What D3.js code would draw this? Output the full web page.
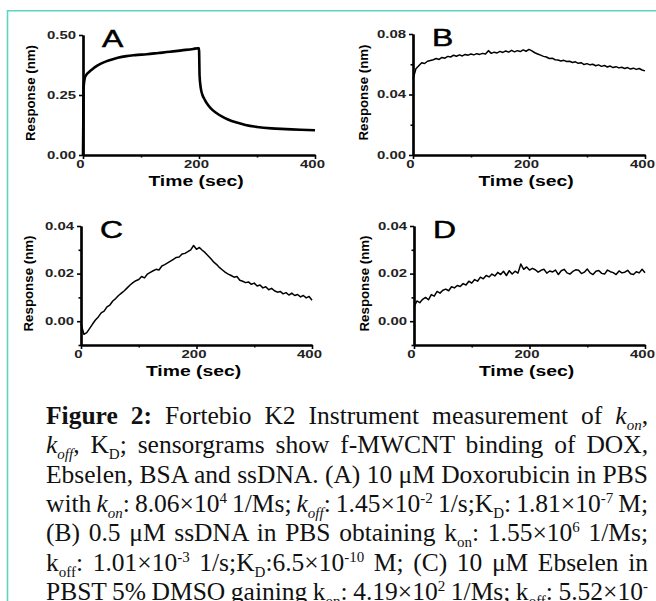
<!DOCTYPE html>
<html>
<head>
<meta charset="utf-8">
<script src="https://cdn.jsdelivr.net/npm/d3@7/dist/d3.min.js"></script>
<style>
  body { margin: 0; background: #fff; }
  svg { display: block; }
</style>
</head>
<body>
<svg id="fig"></svg>
<script>
// ---- data ----
// panel A (DOX) : smooth curve, irregular sampling
var timeA = [0, 1, 3, 6, 10, 15, 20, 30, 40, 50, 60, 75, 90, 110, 130, 150, 170, 190, 198, 200,
             201, 203, 206, 210, 215, 220, 230, 240, 250, 265, 280, 300, 325, 350, 375, 400]
var respA = [0.0, 0.28, 0.32, 0.335, 0.345, 0.355, 0.365, 0.38, 0.39, 0.398, 0.405, 0.412, 0.416, 0.42, 0.425, 0.43, 0.436, 0.442, 0.445, 0.445,
             0.33, 0.28, 0.25, 0.23, 0.21, 0.195, 0.175, 0.16, 0.148, 0.135, 0.125, 0.117, 0.111, 0.108, 0.105, 0.103]

// panels B, C, D : noisy traces, one value every 5 s
var timeBCD = [0, 5, 10, 15, 20, 25, 30, 35, 40, 45, 50, 55, 60, 65, 70, 75, 80, 85, 90, 95,
  100, 105, 110, 115, 120, 125, 130, 135, 140, 145, 150, 155, 160, 165, 170, 175, 180, 185, 190, 195,
  200, 205, 210, 215, 220, 225, 230, 235, 240, 245, 250, 255, 260, 265, 270, 275, 280, 285, 290, 295,
  300, 305, 310, 315, 320, 325, 330, 335, 340, 345, 350, 355, 360, 365, 370, 375, 380, 385, 390, 395, 400]

var respB = [0.050, 0.057, 0.059, 0.061, 0.0605, 0.062, 0.0625, 0.063, 0.0638, 0.0632,
  0.0645, 0.064, 0.0652, 0.0648, 0.066, 0.0653, 0.0662, 0.0655, 0.0665, 0.066,
  0.0668, 0.0662, 0.067, 0.0665, 0.0672, 0.0668, 0.069, 0.0672, 0.068, 0.0675,
  0.0685, 0.0678, 0.0688, 0.068, 0.0692, 0.0682, 0.069, 0.0684, 0.0695, 0.0686,
  0.0698, 0.0688, 0.0676, 0.0668, 0.066, 0.0652, 0.0648, 0.0638, 0.064, 0.063,
  0.0628, 0.0622, 0.0626, 0.0618, 0.062, 0.0612, 0.0616, 0.0606, 0.061, 0.0598,
  0.0604, 0.0596, 0.06, 0.059, 0.0596, 0.0586, 0.0592, 0.0582, 0.0588, 0.0578,
  0.0584, 0.0576, 0.058, 0.0572, 0.0578, 0.0568, 0.0574, 0.0566, 0.0572, 0.0562, 0.0556]

var respC = [-0.001, -0.0055, -0.0048, -0.003, -0.0012, 0.0005, 0.0018, 0.0035, 0.0042, 0.006,
  0.0068, 0.0085, 0.0095, 0.0108, 0.0118, 0.0128, 0.014, 0.0152, 0.0162, 0.017,
  0.0175, 0.0188, 0.0182, 0.0198, 0.0205, 0.0212, 0.0218, 0.0215, 0.0232, 0.0238,
  0.0245, 0.0252, 0.026, 0.0268, 0.027, 0.0282, 0.0285, 0.0292, 0.03, 0.0318,
  0.0302, 0.031, 0.0298, 0.0288, 0.0275, 0.0262, 0.0248, 0.0238, 0.0225, 0.0215,
  0.0205, 0.0198, 0.0192, 0.0185, 0.0188, 0.0172, 0.0168, 0.0162, 0.0165, 0.0155,
  0.016, 0.0148, 0.0152, 0.014, 0.0145, 0.0132, 0.0138, 0.0128, 0.0122, 0.0125,
  0.0115, 0.012, 0.011, 0.0118, 0.0108, 0.0112, 0.0102, 0.0108, 0.0098, 0.0104, 0.0088]

var respD = [0.006, 0.0085, 0.0078, 0.0092, 0.01, 0.009, 0.0112, 0.0105, 0.0125, 0.0118,
  0.013, 0.0135, 0.0128, 0.0145, 0.014, 0.015, 0.0146, 0.0158, 0.0152, 0.0168,
  0.016, 0.0175, 0.0168, 0.0185, 0.0178, 0.0192, 0.0186, 0.0198, 0.019, 0.0205,
  0.0196, 0.021, 0.0192, 0.0212, 0.0198, 0.021, 0.0202, 0.024, 0.0218, 0.0228,
  0.0215, 0.0222, 0.0216, 0.0206, 0.0214, 0.0218, 0.0202, 0.0211, 0.0207, 0.0215,
  0.0196, 0.0212, 0.0218, 0.0203, 0.0198, 0.0209, 0.0216, 0.0214, 0.02, 0.0206,
  0.0219, 0.0203, 0.0196, 0.021, 0.0213, 0.0201, 0.0198, 0.0215, 0.0208, 0.0204,
  0.0196, 0.0211, 0.0203, 0.0206, 0.0214, 0.0199, 0.0196, 0.0208, 0.0203, 0.0218, 0.0204]

var xTicks = [0, 200, 400]
var xMinor = [100, 300]
var yTicksA = [0, 0.25, 0.5]
var yTicksB = [0, 0.04, 0.08], yMinorB = [0.02, 0.06]
var yTicksCD = [0, 0.02, 0.04], yMinorCD = [-0.01, 0.01, 0.03]

// caption, one array of [text, style] per printed line
var captionLines = [
  [["Figure 2:", "b"], [" Fortebio K2 Instrument measurement of ", ""], ["k", "i"], ["on", "isub"], [",", ""]],
  [["k", "i"], ["off", "isub"], [", K", ""], ["D", "sub"], ["; sensorgrams show f-MWCNT binding of DOX,", ""]],
  [["Ebselen, BSA and ssDNA. (A) 10 \u03bcM Doxorubicin in PBS", ""]],
  [["with ", ""], ["k", "i"], ["on", "isub"], [": 8.06\u00d710", ""], ["4", "sup"], [" 1/Ms; ", ""], ["k", "i"], ["off", "isub"],
   [": 1.45\u00d710", ""], ["-2", "sup"], [" 1/s;K", ""], ["D", "sub"], [": 1.81\u00d710", ""], ["-7", "sup"], [" M;", ""]],
  [["(B) 0.5 \u03bcM ssDNA in PBS obtaining k", ""], ["on", "sub"], [": 1.55\u00d710", ""], ["6", "sup"], [" 1/Ms;", ""]],
  [["k", ""], ["off", "sub"], [": 1.01\u00d710", ""], ["-3", "sup"], [" 1/s;K", ""], ["D", "sub"], [":6.5\u00d710", ""], ["-10", "sup"],
   [" M; (C) 10 \u03bcM Ebselen in", ""]],
  [["PBST 5% DMSO gaining k", ""], ["on", "sub"], [": 4.19\u00d710", ""], ["2", "sup"], [" 1/Ms; k", ""], ["off", "sub"],
   [": 5.52\u00d710", ""], ["-", "sup"]]
]

// ---- drawing ----
var width = 656, height = 601
var sx = 1.42   // the chart lettering is printed wide

var svg = d3.select("#fig").attr("width", width).attr("height", height)
svg.append("rect").attr("width", width).attr("height", height).attr("fill", "#fff")

// teal frame of the figure box
svg.append("path")
  .attr("d", "M7.5," + height + "V10.7H" + width)
  .attr("fill", "none").attr("stroke", "#5fd3c4").attr("stroke-width", 1.6)

var panels = [
  { name: "A", t: timeA, v: respA, x0: 83, x1: 315, yTop: 35, yBot: 155, dom: [0, 0.5], major: yTicksA, minor: [], sw: 2.6, smooth: true, ytOff: 48 },
  { name: "B", t: timeBCD, v: respB, x0: 413, x1: 645, yTop: 34, yBot: 155, dom: [0, 0.08], major: yTicksB, minor: yMinorB, sw: 1.5, ytOff: 45 },
  { name: "C", t: timeBCD, v: respC, x0: 81, x1: 312, yTop: 226, yBot: 345, dom: [-0.01, 0.04], major: yTicksCD, minor: yMinorCD, sw: 1.5, ytOff: 48 },
  { name: "D", t: timeBCD, v: respD, x0: 414, x1: 645, yTop: 226, yBot: 345, dom: [-0.01, 0.04], major: yTicksCD, minor: yMinorCD, sw: 1.5, ytOff: 45 }
]

var font = "'Liberation Sans', Arial, sans-serif"

panels.forEach(function(p) {
  var x = d3.scaleLinear().domain([0, 400]).range([p.x0, p.x1])
  var y = d3.scaleLinear().domain(p.dom).range([p.yBot, p.yTop])
  var g = svg.append("g")

  // minor ticks first
  g.append("g").attr("transform", "translate(0," + p.yBot + ")")
    .call(d3.axisBottom(x).tickValues(xMinor).tickSize(2.5).tickFormat("").tickSizeOuter(0))
  g.append("g").attr("transform", "translate(" + p.x0 + ",0)")
    .call(d3.axisLeft(y).tickValues(p.minor).tickSize(2.5).tickFormat("").tickSizeOuter(0))

  var xa = g.append("g").attr("transform", "translate(0," + p.yBot + ")")
    .call(d3.axisBottom(x).tickValues(xTicks).tickSize(4).tickPadding(2).tickSizeOuter(0))
  var ya = g.append("g").attr("transform", "translate(" + p.x0 + ",0)")
    .call(d3.axisLeft(y).tickValues(p.major).tickSize(4).tickPadding(3).tickSizeOuter(0).tickFormat(d3.format(".2f")))

  g.selectAll(".domain").attr("stroke", "#000").attr("stroke-width", 2.2)
  g.selectAll(".tick line").attr("stroke", "#000").attr("stroke-width", 1.6)

  xa.selectAll("text")
    .attr("font-family", font).attr("font-weight", "bold").attr("font-size", 10.5).attr("fill", "#222")
    .attr("transform", "translate(-3,0) scale(" + sx + ",1)")
  ya.selectAll("text")
    .attr("font-family", font).attr("font-weight", "bold").attr("font-size", 10.5).attr("fill", "#222")
    .attr("x", 0).attr("transform", "translate(-7,0) scale(" + sx + ",1)")

  // trace
  var line = d3.line()
    .x(function(d) { return x(d[0]) })
    .y(function(d) { return y(d[1]) })
  if (p.smooth) line.curve(d3.curveMonotoneX)
  g.append("path")
    .datum(p.t.map(function(t, i) { return [t, p.v[i]] }))
    .attr("d", line)
    .attr("fill", "none").attr("stroke", "#000")
    .attr("stroke-width", p.sw).attr("stroke-linejoin", "round")

  // panel letter
  g.append("text")
    .attr("transform", "translate(" + (p.x0 + 19) + "," + (p.yTop + 12) + ") scale(1.33,1)")
    .attr("font-family", font).attr("font-size", 24).attr("fill", "#000")
    .attr("stroke", "#000").attr("stroke-width", 0.5)
    .text(p.name)

  // axis titles
  g.append("text")
    .attr("transform", "translate(" + ((p.x0 + p.x1) / 2 - 3) + "," + (p.yBot + 31) + ") scale(1.38,1)")
    .attr("text-anchor", "middle")
    .attr("font-family", font).attr("font-weight", "bold").attr("font-size", 14)
    .text("Time (sec)")
  g.append("text")
    .attr("transform", "translate(" + (p.x0 - p.ytOff) + "," + ((p.yTop + p.yBot) / 2 - 2) + ") rotate(-90)")
    .attr("text-anchor", "middle")
    .attr("font-family", font).attr("font-weight", "bold").attr("font-size", 13.3)
    .text("Response (nm)")
})

// caption, justified between the two margins
var capLeft = 46, capRight = 648, capTop = 424, capStep = 29.3
var offsets = { sub: 6, isub: 6, sup: -9 }

captionLines.forEach(function(segs, i) {
  var txt = svg.append("text")
    .attr("x", capLeft).attr("y", capTop + i * capStep)
    .attr("font-family", "'Liberation Serif', 'Times New Roman', serif")
    .attr("font-size", 25.5).attr("fill", "#111")
  var cur = 0
  segs.forEach(function(s) {
    var off = offsets[s[1]] || 0
    var ts = txt.append("tspan").text(s[0])
    if (off !== cur) ts.attr("dy", off - cur)
    cur = off
    if (s[1] === "b") ts.attr("font-weight", "bold")
    if (s[1] === "i" || s[1] === "isub") ts.attr("font-style", "italic")
    if (s[1] === "sub" || s[1] === "isub" || s[1] === "sup") ts.attr("font-size", 15)
  })
  var full = segs.map(function(s) { return s[0] }).join("")
  var nSpaces = (full.match(/ /g) || []).length
  var w = txt.node().getComputedTextLength()
  if (nSpaces > 0) txt.attr("word-spacing", (capRight - capLeft - w) / nSpaces)
})
</script>
</body>
</html>
